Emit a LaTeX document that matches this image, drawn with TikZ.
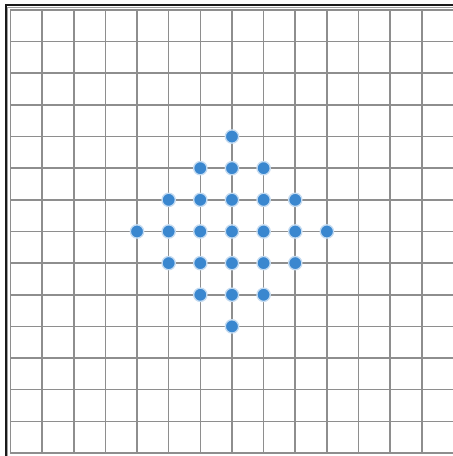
\documentclass[tikz,border=0pt]{standalone}
\usepackage{tikz}
\usetikzlibrary{arrows.meta,positioning}
\usepackage{xcolor}
\definecolor{gridln}{HTML}{8E8E8E}
\definecolor{framea}{HTML}{1A1A1A}
\definecolor{frameb}{HTML}{A0A0A0}
\definecolor{dotblue}{HTML}{3A87CF}

\begin{document}
\begin{tikzpicture}[
  gridline/.style={draw=gridln, line width=1.4pt},
  dot/.style={circle, fill=dotblue, draw=dotblue!30, line width=1.2pt, minimum size=0.42cm, inner sep=0pt},
]
\useasboundingbox (-0.33,-0.095) rectangle (13.98,14.315);

% grid
\foreach \k in {0,...,14} {
  \draw[gridline] (\k,0) -- (\k,14);
  \draw[gridline] (0,\k) -- (14.2,\k);
}

% frame (top and left only)
\draw[framea, line width=1.6pt] (-0.15,-0.2) |- (14.2,14.15);
\draw[frameb, line width=0.7pt] (-0.085,-0.2) |- (14.2,14.085);

% diamond of points
\foreach \i in {-3,...,3} {
  \foreach \j in {-3,...,3} {
    \pgfmathtruncatemacro{\d}{abs(\i)+abs(\j)}
    \ifnum\d<4
      \node[dot] (p\i\j) at (7+\i,7+\j) {};
    \fi
  }
}

\end{tikzpicture}
\end{document}
